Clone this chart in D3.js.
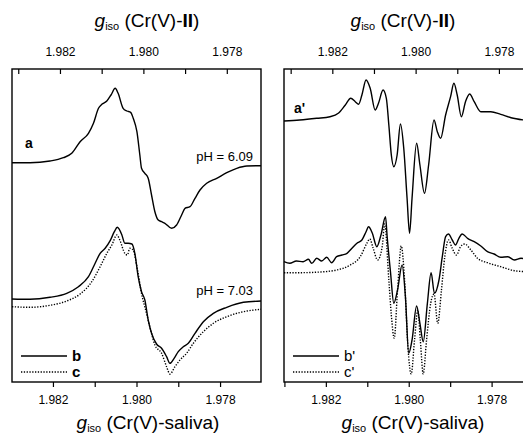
<!DOCTYPE html>
<html>
<head>
<meta charset="utf-8">
<script src="https://cdn.jsdelivr.net/npm/d3@7"></script>
<style>
  body { margin: 0; background: #fff; }
  svg { display: block; }
</style>
</head>
<body>
<svg id="chart" width="523" height="437"></svg>
<script>
// spectra as [g (Cr(V)-saliva), intensity in arbitrary units]
const specA = [
  [1.98298, 219.3], [1.98255, 219.3], [1.98207, 221], [1.98175, 224.3], [1.98155, 228.7],
  [1.98135, 240.3], [1.98115, 248.7], [1.98103, 258.7], [1.98091, 273.7], [1.98083, 277.7],
  [1.98071, 281], [1.98061, 287], [1.98051, 293.7], [1.98044, 288.7], [1.98032, 273.7],
  [1.98023, 271], [1.98014, 269.7], [1.98008, 264], [1.97999, 250.3], [1.97992, 227],
  [1.97988, 213.7], [1.97980, 208.7], [1.97972, 203.7], [1.97964, 187], [1.97956, 170.3],
  [1.97948, 162], [1.97940, 160.3], [1.97932, 158.7], [1.97916, 153.7], [1.97904, 157],
  [1.97892, 167], [1.97884, 173.7], [1.97872, 175.3], [1.97860, 183.7], [1.97848, 192],
  [1.97832, 198.7], [1.97808, 203.7], [1.97784, 209.3], [1.97760, 213.7], [1.97736, 216],
  [1.97702, 216.3]
]
const specB = [
  [1.98298, 83], [1.98255, 82.7], [1.98207, 84.7], [1.98167, 88.7], [1.98139, 95.3],
  [1.98115, 105.3], [1.98099, 118.7], [1.98087, 128.7], [1.98075, 133.7], [1.98063, 141.3],
  [1.98053, 150.3], [1.98046, 154.7], [1.98035, 147], [1.98028, 138.7], [1.98020, 138.7],
  [1.98011, 138], [1.98004, 128.7], [1.97996, 105.3], [1.97988, 90.3], [1.97980, 82],
  [1.97972, 62], [1.97964, 48.7], [1.97952, 38], [1.97940, 33.7], [1.97928, 25.3],
  [1.97920, 18.7], [1.97910, 23.7], [1.97900, 30.3], [1.97888, 35.3], [1.97876, 38.7],
  [1.97860, 48.7], [1.97840, 60.3], [1.97816, 68.7], [1.97784, 74.7], [1.97744, 79.7],
  [1.97702, 81]
]
const specC = [
  [1.98298, 75.3], [1.98255, 74.7], [1.98207, 76.7], [1.98167, 81], [1.98135, 88],
  [1.98107, 100.3], [1.98087, 115.3], [1.98071, 128.7], [1.98059, 137], [1.98047, 147],
  [1.98040, 142], [1.98028, 128.7], [1.98022, 127], [1.98016, 133.7], [1.98008, 132],
  [1.97999, 115.3], [1.97988, 88.7], [1.97976, 68.7], [1.97964, 48.7], [1.97956, 37],
  [1.97940, 28.7], [1.97928, 15.3], [1.97920, 8], [1.97908, 15.3], [1.97896, 22],
  [1.97880, 28.7], [1.97864, 38.7], [1.97840, 50.3], [1.97816, 58.7], [1.97784, 65.3],
  [1.97744, 70.3], [1.97702, 72.7]
]
const specA2 = [
  [1.98301, 261], [1.98263, 262], [1.98222, 263.7], [1.98190, 265.3], [1.98170, 268.7],
  [1.98153, 277], [1.98140, 283.7], [1.98129, 280.3], [1.98121, 277.7], [1.98113, 287],
  [1.98103, 302], [1.98093, 293.7], [1.98081, 272], [1.98073, 278.7], [1.98062, 292],
  [1.98054, 283.7], [1.98048, 257], [1.98042, 227], [1.98036, 215.3], [1.98028, 227],
  [1.98020, 258], [1.98012, 233.7], [1.98004, 183.7], [1.97998, 148.7], [1.97992, 183.7],
  [1.97981, 238.7], [1.97973, 217], [1.97962, 188.7], [1.97952, 217], [1.97939, 262],
  [1.97931, 250.3], [1.97923, 243.7], [1.97911, 267], [1.97899, 285.3], [1.97891, 298.7],
  [1.97883, 287], [1.97873, 265.3], [1.97863, 280.3], [1.97853, 288], [1.97842, 280.3],
  [1.97826, 270.3], [1.97802, 270.3], [1.97778, 267.7], [1.97753, 264.3], [1.97722, 262]
]
const specB2 = [
  [1.98301, 120.3], [1.98287, 118.7], [1.98271, 121], [1.98255, 120.3], [1.98242, 122.7],
  [1.98234, 118.7], [1.98222, 123.7], [1.98210, 121], [1.98198, 124.7], [1.98186, 119.3],
  [1.98174, 125.3], [1.98161, 127], [1.98149, 128.7], [1.98137, 133.7], [1.98125, 138.7],
  [1.98113, 142], [1.98103, 150.3], [1.98097, 155.3], [1.98088, 149], [1.98077, 135.3],
  [1.98067, 147], [1.98056, 165.3], [1.98052, 145], [1.98044, 110], [1.98036, 78.7],
  [1.98027, 92], [1.98016, 117], [1.98008, 85.3], [1.98000, 28.7], [1.97992, 42],
  [1.97981, 76], [1.97973, 58.7], [1.97965, 40.3], [1.97955, 78.7], [1.97946, 109.3],
  [1.97938, 88.7], [1.97927, 102], [1.97919, 125.3], [1.97911, 145.3], [1.97904, 148],
  [1.97895, 142], [1.97887, 137], [1.97879, 143.7], [1.97871, 148], [1.97858, 143.7],
  [1.97842, 140.3], [1.97826, 136], [1.97810, 130.3], [1.97794, 128], [1.97778, 124.7],
  [1.97761, 125.3], [1.97745, 122], [1.97729, 123.7], [1.97717, 122.7]
]
const specC2 = [
  [1.98301, 109.3], [1.98263, 109.3], [1.98214, 110], [1.98174, 112], [1.98141, 117],
  [1.98117, 125.3], [1.98101, 138.7], [1.98094, 143], [1.98086, 134], [1.98075, 122],
  [1.98064, 135.3], [1.98058, 158], [1.98048, 102], [1.98042, 67], [1.98035, 43.7],
  [1.98027, 92], [1.98018, 136], [1.98010, 102], [1.98002, 35.3], [1.97994, 8],
  [1.97986, 42], [1.97978, 72], [1.97972, 42], [1.97965, 8], [1.97957, 42],
  [1.97947, 78.7], [1.97939, 88], [1.97930, 58.7], [1.97921, 92], [1.97913, 125.3],
  [1.97904, 142], [1.97895, 133.7], [1.97885, 127], [1.97875, 135.3], [1.97865, 138],
  [1.97850, 132], [1.97834, 123.7], [1.97810, 119.3], [1.97778, 115.3], [1.97745, 111.3],
  [1.97717, 110.3]
]

const gTicks = [1.983, 1.982, 1.981, 1.980, 1.979, 1.978, 1.977]
const gLabels = [1.982, 1.980, 1.978]

const panels = [
  {
    x0: 12, x1: 261, y0: 69, y1: 382,
    bottom: [1.98298, 1.97702], top: [1.98315, 1.97718], yMax: 313,
    solid: [specA, specB], dotted: [specC],
    labels: [{ text: 'a', x: 25, y: 148 }],
    ph: [{ text: 'pH = 6.09', y: 161 }, { text: 'pH = 7.03', y: 295 }],
    legend: ['b', 'c'], legendBold: true
  },
  {
    x0: 284, x1: 526, y0: 69, y1: 382,
    bottom: [1.98301, 1.97717], top: [1.98316, 1.97735], yMax: 313,
    solid: [specA2, specB2], dotted: [specC2],
    labels: [{ text: "a'", x: 294, y: 113 }],
    ph: [],
    legend: ["b'", "c'"], legendBold: false
  }
]

const svg = d3.select('#chart')
const font = 'Liberation Sans, Arial, Helvetica, sans-serif'

function title(x, y, tail) {
  const t = svg.append('text')
    .attr('x', x).attr('y', y)
    .attr('text-anchor', 'middle')
    .attr('font-family', font)
    .attr('font-size', 19)
    .attr('fill', '#000')
  t.append('tspan').attr('font-style', 'italic').text('g')
  t.append('tspan').attr('font-size', 11).attr('dy', 3).text('iso')
  t.append('tspan').attr('dy', -3).text(' (Cr(V)-')
  tail(t)
  t.append('tspan').text(')')
}

panels.forEach((p) => {
  const xb = d3.scaleLinear().domain(p.bottom).range([p.x0, p.x1])
  const xt = d3.scaleLinear().domain(p.top).range([p.x0, p.x1])
  const y = d3.scaleLinear().domain([0, p.yMax]).range([p.y1, p.y0])

  const fmt = (d) => (gLabels.some((l) => Math.abs(l - d) < 1e-6) ? d3.format('.3f')(d) : '')

  const bottomAxis = svg.append('g')
    .attr('transform', `translate(0,${p.y1})`)
    .call(d3.axisBottom(xb)
      .tickValues(gTicks.filter((t) => t <= p.bottom[0] && t >= p.bottom[1]))
      .tickSize(5).tickSizeOuter(0).tickPadding(8).tickFormat(fmt))
  const topAxis = svg.append('g')
    .attr('transform', `translate(0,${p.y0})`)
    .call(d3.axisTop(xt)
      .tickValues(gTicks.filter((t) => t <= p.top[0] && t >= p.top[1]))
      .tickSize(-5).tickSizeOuter(0).tickPadding(13).tickFormat(fmt))
  ;[bottomAxis, topAxis].forEach((ax) => {
    ax.select('.domain').remove()
    ax.selectAll('line').attr('stroke', '#000').attr('stroke-width', 1.2)
    ax.selectAll('text').attr('font-family', font).attr('font-size', 12).attr('fill', '#000')
  })

  svg.append('rect')
    .attr('x', p.x0).attr('y', p.y0)
    .attr('width', p.x1 - p.x0).attr('height', p.y1 - p.y0)
    .attr('fill', 'none').attr('stroke', '#000').attr('stroke-width', 1.4)

  const line = d3.line()
    .x((d) => xb(d[0]))
    .y((d) => y(d[1]))
    .curve(d3.curveMonotoneX)

  p.dotted.forEach((s) => {
    svg.append('path').attr('d', line(s))
      .attr('fill', 'none').attr('stroke', '#000')
      .attr('stroke-width', 1.4).attr('stroke-dasharray', '1.3,1.5')
  })
  p.solid.forEach((s) => {
    svg.append('path').attr('d', line(s))
      .attr('fill', 'none').attr('stroke', '#000').attr('stroke-width', 1.4)
  })

  p.labels.forEach((l) => {
    svg.append('text').attr('x', l.x).attr('y', l.y)
      .attr('font-family', font).attr('font-size', 14).attr('font-weight', 'bold')
      .text(l.text)
  })
  p.ph.forEach((l) => {
    svg.append('text').attr('x', p.x1 - 8).attr('y', l.y)
      .attr('text-anchor', 'end')
      .attr('font-family', font).attr('font-size', 13)
      .text(l.text)
  })

  p.legend.forEach((name, i) => {
    const ly = 356 + i * 16
    svg.append('line')
      .attr('x1', p.x0 + 9).attr('x2', p.x0 + 55)
      .attr('y1', ly).attr('y2', ly)
      .attr('stroke', '#000').attr('stroke-width', 1.4)
      .attr('stroke-dasharray', i === 1 ? '1.3,1.5' : null)
    svg.append('text').attr('x', p.x0 + 60).attr('y', ly + 5)
      .attr('font-family', font).attr('font-size', 15)
      .attr('font-weight', p.legendBold ? 'bold' : 'normal')
      .text(name)
  })
})

title(147, 27, (t) => t.append('tspan').attr('font-weight', 'bold').text('II'))
title(403, 27, (t) => t.append('tspan').attr('font-weight', 'bold').text('II'))
title(148, 429, (t) => t.append('tspan').text('saliva'))
title(413, 429, (t) => t.append('tspan').text('saliva'))
</script>
</body>
</html>
